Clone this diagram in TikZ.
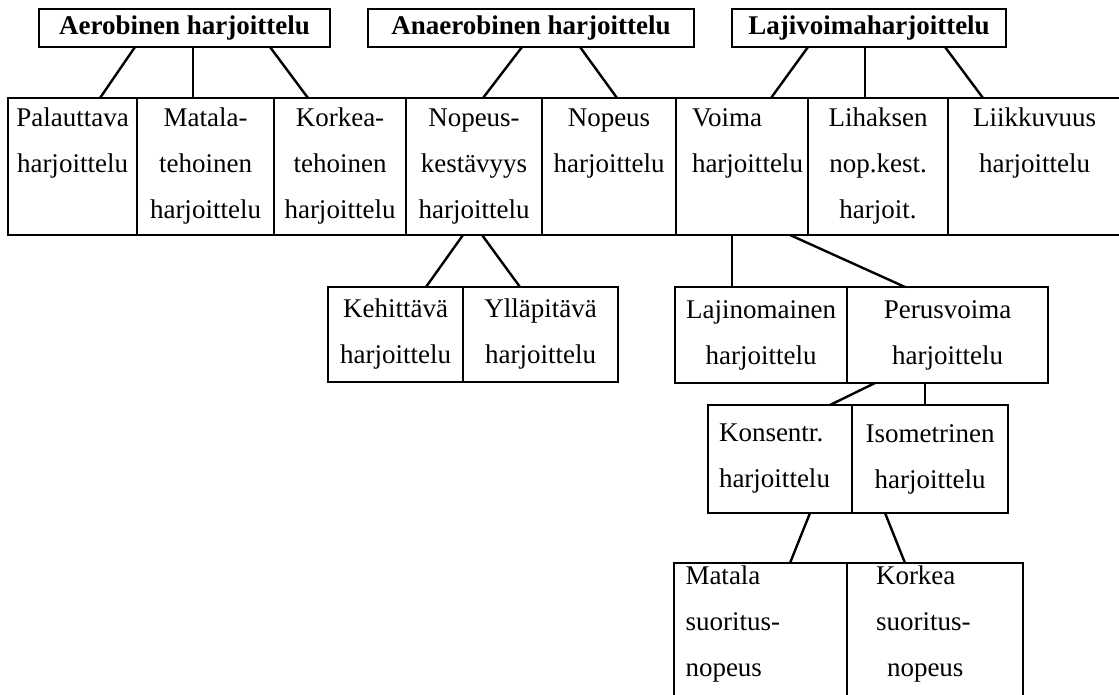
\documentclass[tikz,border=0pt]{standalone}
\usepackage{fontspec}
\setmainfont{Liberation Serif}

\begin{document}
\begin{tikzpicture}[x=1pt,y=-1pt,
        cell/.style={draw,line width=1.5pt,anchor=north west,inner sep=0pt,outer sep=0pt,
                     align=center,font=\fontsize{27}{46}\selectfont},
        head/.style={cell,minimum height=38pt,font=\bfseries\fontsize{27}{46}\selectfont},
        row/.style={cell,minimum height=137pt},
        link/.style={line width=2.4pt}]
        \useasboundingbox (0,0) rectangle (1119,695);

        % Headings:
        \node [head,minimum width=291pt] (aer) at (39,9)  {Aerobinen harjoittelu};
        \node [head,minimum width=326pt] (ana) at (368,9) {Anaerobinen harjoittelu};
        \node [head,minimum width=274pt] (laj) at (732,9) {Lajivoimaharjoittelu};

        % Main row:
        \node [row,minimum width=129pt] (pal) at (8,98)   {Palauttava\\harjoittelu\\\mbox{\vphantom{j}}};
        \node [row,minimum width=137pt] (mat) at (137,98) {Matala-\\tehoinen\\harjoittelu};
        \node [row,minimum width=132pt] (kor) at (274,98) {Korkea-\\tehoinen\\harjoittelu};
        \node [row,minimum width=136pt] (nke) at (406,98) {Nopeus-\\kestävyys\\harjoittelu};
        \node [row,minimum width=134pt] (nop) at (542,98) {Nopeus\\harjoittelu\\\mbox{\vphantom{j}}};
        \node [row,minimum width=132pt,align=left,text width=100pt] (voi) at (676,98) {Voima\\harjoittelu\\\mbox{\vphantom{j}}};
        \node [row,minimum width=140pt] (lih) at (808,98) {Lihaksen\\nop.kest.\\harjoit.};
        \node [row,minimum width=173pt] (lii) at (948,98) {Liikkuvuus\\harjoittelu\\\mbox{\vphantom{j}}};

        % Lower levels:
        \node [cell,minimum width=135pt,minimum height=95pt] (keh) at (328,287) {Kehittävä\\harjoittelu};
        \node [cell,minimum width=155pt,minimum height=95pt] (yll) at (463,287) {Ylläpitävä\\harjoittelu};
        \node [cell,minimum width=172pt,minimum height=96pt] (ljn) at (675,287) {Lajinomainen\\harjoittelu};
        \node [cell,minimum width=201pt,minimum height=96pt] (per) at (847,287) {Perusvoima\\harjoittelu};
        \node [cell,minimum width=144pt,minimum height=108pt,align=left,text width=122pt] (kon) at (708,405) {Konsentr.\\harjoittelu};
        \node [cell,minimum width=156pt,minimum height=108pt] (iso) at (852,405) {Isometrinen\\harjoittelu};
        \node [cell,minimum width=173pt,minimum height=147pt,align=left,text width=150pt] (msn) at (674,563) {Matala\\suoritus-\\nopeus\\[-16pt]\mbox{}};
        \node [cell,minimum width=176pt,minimum height=147pt,align=left,text width=118pt] (ksn) at (847,563) {Korkea\\suoritus-\\\hspace*{11pt}nopeus\\[-16pt]\mbox{}};

        % Connectors:
        \draw [link] ([xshift=96pt]aer.south west)  -- ([xshift=92pt]pal.north west);
        \draw [link] ([xshift=154pt]aer.south west) -- ([xshift=56pt]mat.north west);
        \draw [link] ([xshift=231pt]aer.south west) -- ([xshift=34pt]kor.north west);
        \draw [link] ([xshift=154pt]ana.south west) -- ([xshift=77pt]nke.north west);
        \draw [link] ([xshift=212pt]ana.south west) -- ([xshift=75pt]nop.north west);
        \draw [link] ([xshift=76pt]laj.south west)  -- ([xshift=95pt]voi.north west);
        \draw [link] ([xshift=133pt]laj.south west) -- ([xshift=57pt]lih.north west);
        \draw [link] ([xshift=213pt]laj.south west) -- ([xshift=35pt]lii.north west);
        \draw [link] ([xshift=57pt]nke.south west)  -- ([xshift=98pt]keh.north west);
        \draw [link] ([xshift=76pt]nke.south west)  -- ([xshift=57pt]yll.north west);
        \draw [link] ([xshift=56pt]voi.south west)  -- ([xshift=57pt]ljn.north west);
        \draw [link] ([xshift=114pt]voi.south west) -- ([xshift=58pt]per.north west);
        \draw [link] ([xshift=28pt]per.south west)  -- ([xshift=122pt]kon.north west);
        \draw [link] ([xshift=78pt]per.south west)  -- ([xshift=73pt]iso.north west);
        \draw [link] ([xshift=102pt]kon.south west) -- ([xshift=116pt]msn.north west);
        \draw [link] ([xshift=33pt]iso.south west)  -- ([xshift=58pt]ksn.north west);
\end{tikzpicture}
\end{document}
